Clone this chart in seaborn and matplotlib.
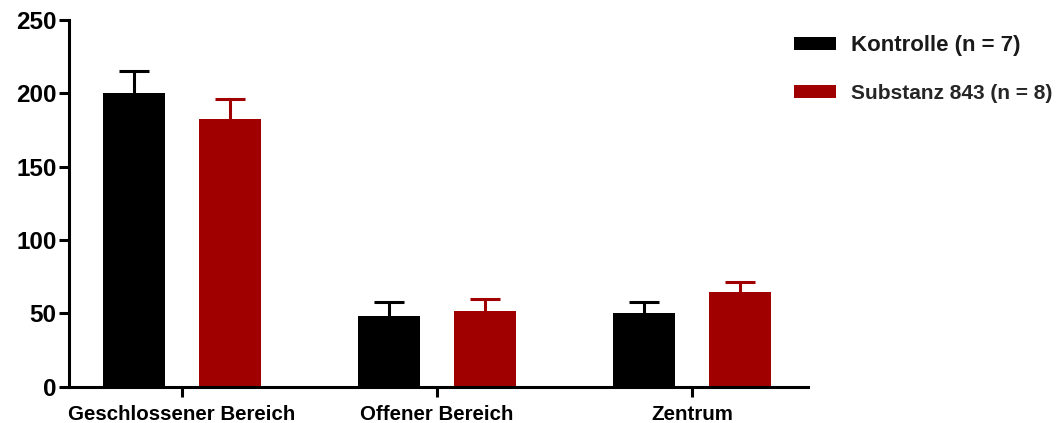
import matplotlib
matplotlib.use("Agg")
import matplotlib.pyplot as plt
from matplotlib.patches import Patch
import seaborn as sns
import pandas as pd
import numpy as np

# Mean values and standard errors per area and group
areas = ["Geschlossener Bereich", "Offener Bereich", "Zentrum"]
groups = ["Kontrolle (n = 7)", "Substanz 843 (n = 8)"]
kontrolle_mean = [200.0, 48.2, 50.5]
substanz_mean = [182.7, 51.4, 64.3]
kontrolle_sem = [15.4, 9.8, 7.2]
substanz_sem = [13.3, 8.4, 6.9]
colors = ["#000000", "#A00000"]
y_ticks = [0, 50, 100, 150, 200, 250]

sns.set_theme(style="ticks")
plt.rcParams["font.family"] = ["Liberation Sans", "DejaVu Sans"]
plt.rcParams["font.weight"] = "bold"

df = pd.DataFrame({
    "Bereich": areas * 2,
    "Gruppe": [groups[0]] * 3 + [groups[1]] * 3,
    "Wert": kontrolle_mean + substanz_mean,
    "SEM": kontrolle_sem + substanz_sem,
})

fig = plt.figure(figsize=(10.62, 4.23), dpi=100)
ax = fig.add_axes([0.065, 0.086, 0.696, 0.867])

sns.barplot(data=df, x="Bereich", y="Wert", hue="Gruppe", order=areas,
            hue_order=groups, palette=colors, width=0.75, gap=0.35,
            errorbar=None, ax=ax, legend=False, saturation=1,
            edgecolor="none", linewidth=0)

# Upper-only error bars, placed at the centres of the drawn bars
for container, grp, col in zip(ax.containers, groups, colors):
    sub = df[df["Gruppe"] == grp].set_index("Bereich").loc[areas]
    xs = [p.get_x() + p.get_width() / 2 for p in container.patches]
    _, caps, _ = ax.errorbar(xs, sub["Wert"].values,
                             yerr=[np.zeros(len(xs)), sub["SEM"].values],
                             fmt="none", ecolor=col, elinewidth=2.2,
                             capsize=11, capthick=2.2, zorder=1)
    # hide the cap that would sit on the bar top
    caps[0].set_visible(False)

ax.set_ylim(0, 250)
ax.set_yticks(y_ticks)
ax.set_xlim(-0.443, 2.455)
ax.set_xlabel("")
ax.set_ylabel("")
for side in ["top", "right"]:
    ax.spines[side].set_visible(False)
for side in ["left", "bottom"]:
    ax.spines[side].set_linewidth(2.2)
    ax.spines[side].set_color("black")
ax.tick_params(axis="y", length=7, width=2.2, labelsize=17.5, pad=2,
               colors="black")
ax.tick_params(axis="x", length=7, width=2.2, labelsize=14.8, pad=6,
               colors="black")
for lbl in ax.get_xticklabels() + ax.get_yticklabels():
    lbl.set_fontweight("bold")

handles = [Patch(facecolor=c, edgecolor="none") for c in colors]
leg = fig.legend(handles, groups, loc="upper left",
                 bbox_to_anchor=(0.730, 0.962), frameon=False,
                 prop={"weight": "bold", "size": 15},
                 handlelength=2.0, handleheight=0.55, handletextpad=0.75,
                 labelspacing=1.35)
leg.get_texts()[0].set_fontsize(16)
leg.get_texts()[0].set_color("#1a1a1a")

fig.savefig("out.png", dpi=100, facecolor="white")
